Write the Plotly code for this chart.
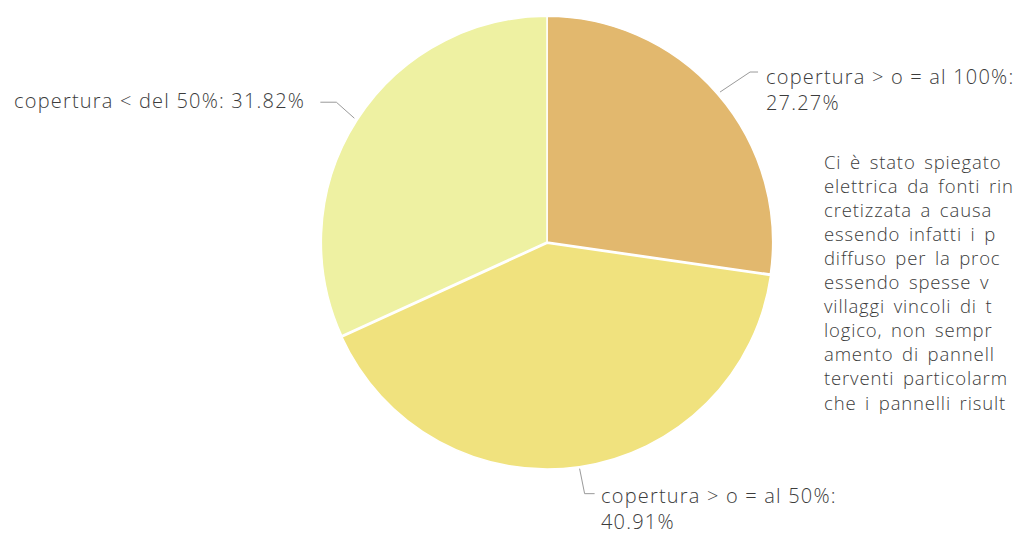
import math
import plotly.graph_objects as go

# Share of coverage classes (percent)
categories = ["copertura > o = al 100%", "copertura > o = al 50%", "copertura < del 50%"]
shares = [27.27, 40.91, 31.82]
slice_colors = ["#E2B86E", "#F0E27E", "#EEF1A2"]

# Side paragraph (runs to the right edge of the page)
side_lines = [
    "Ci è stato spiegato",
    "elettrica da fonti rin",
    "cretizzata a causa",
    "essendo infatti i p",
    "diffuso per la proc",
    "essendo spesse v",
    "villaggi vincoli di t",
    "logico, non sempr",
    "amento di pannell",
    "terventi particolarm",
    "che i pannelli risult",
]

W, H = 1020, 537
CX, CY, R = 547, 242, 227  # pie centre and radius in pixels

FONT = "Open Sans"
TXT = "#3c3c3c"
LABEL_FS = 20
PARA_FS = 18.5
LABEL_STYLE = "letter-spacing:1.2px"
PARA_STYLE = "letter-spacing:0.85px;word-spacing:3px"

fig = go.Figure(
    go.Pie(
        labels=categories,
        values=shares,
        sort=False,
        direction="clockwise",
        rotation=0,
        textinfo="none",
        hoverinfo="label+percent",
        marker=dict(colors=slice_colors, line=dict(color="#FFFFFF", width=1.5)),
        pull=[0, 0.006, 0],
        domain=dict(x=[(CX - R) / W, (CX + R) / W],
                    y=[(H - CY - R) / H, (H - CY + R) / H]),
        showlegend=False,
    )
)


def px(x):
    return x / W


def py(y):
    return 1 - y / H


def styled(s, style):
    return f'<span style="{style}">{s}</span>'


def text_block(x, y, s, size, anchor="left", yanchor="middle"):
    return dict(
        x=px(x), y=py(y), xref="paper", yref="paper",
        xanchor=anchor, yanchor=yanchor, align="left",
        text=s, showarrow=False, borderpad=0,
        font=dict(family=FONT, size=size, color=TXT, weight=300),
    )


# Label placement: elbow offset, horizontal run, text anchor and text centre
placements = [
    dict(elbow=(30, -20), run=8, anchor="left", tx=765, ty=90),
    dict(elbow=(5, 25), run=10, anchor="left", tx=600, ty=508),
    dict(elbow=(-18, -16), run=-16, anchor="right", tx=306, ty=100),
]

shapes = []
annotations = []
total = sum(shares)
cum = 0.0
for name, val, pl in zip(categories, shares, placements):
    mid = (cum + val / 2) / total * 2 * math.pi
    cum += val
    ex = CX + (R + 2) * math.sin(mid)
    ey = CY - (R + 2) * math.cos(mid)
    bx, by = ex + pl["elbow"][0], ey + pl["elbow"][1]
    hx = bx + pl["run"]
    shapes.append(dict(
        type="path", xref="paper", yref="paper",
        path=f"M {px(ex)} {py(ey)} L {px(bx)} {py(by)} L {px(hx)} {py(by)}",
        line=dict(color="#9a9a9a", width=1),
    ))
    if pl["anchor"] == "right":
        txt = styled(f"{name}: {val:.2f}%", LABEL_STYLE)
    else:
        txt = styled(f"{name}:", LABEL_STYLE) + "<br>" + styled(f"{val:.2f}%", LABEL_STYLE)
    annotations.append(text_block(pl["tx"], pl["ty"], txt, LABEL_FS, pl["anchor"]))

para = "<br>".join(styled(s, PARA_STYLE) for s in side_lines)
annotations.append(text_block(823, 148, para, PARA_FS, "left", "top"))

fig.update_layout(
    width=W, height=H,
    margin=dict(l=0, r=0, t=0, b=0),
    paper_bgcolor="#FFFFFF",
    plot_bgcolor="#FFFFFF",
    shapes=shapes,
    annotations=annotations,
)

fig.write_html("out.html")
